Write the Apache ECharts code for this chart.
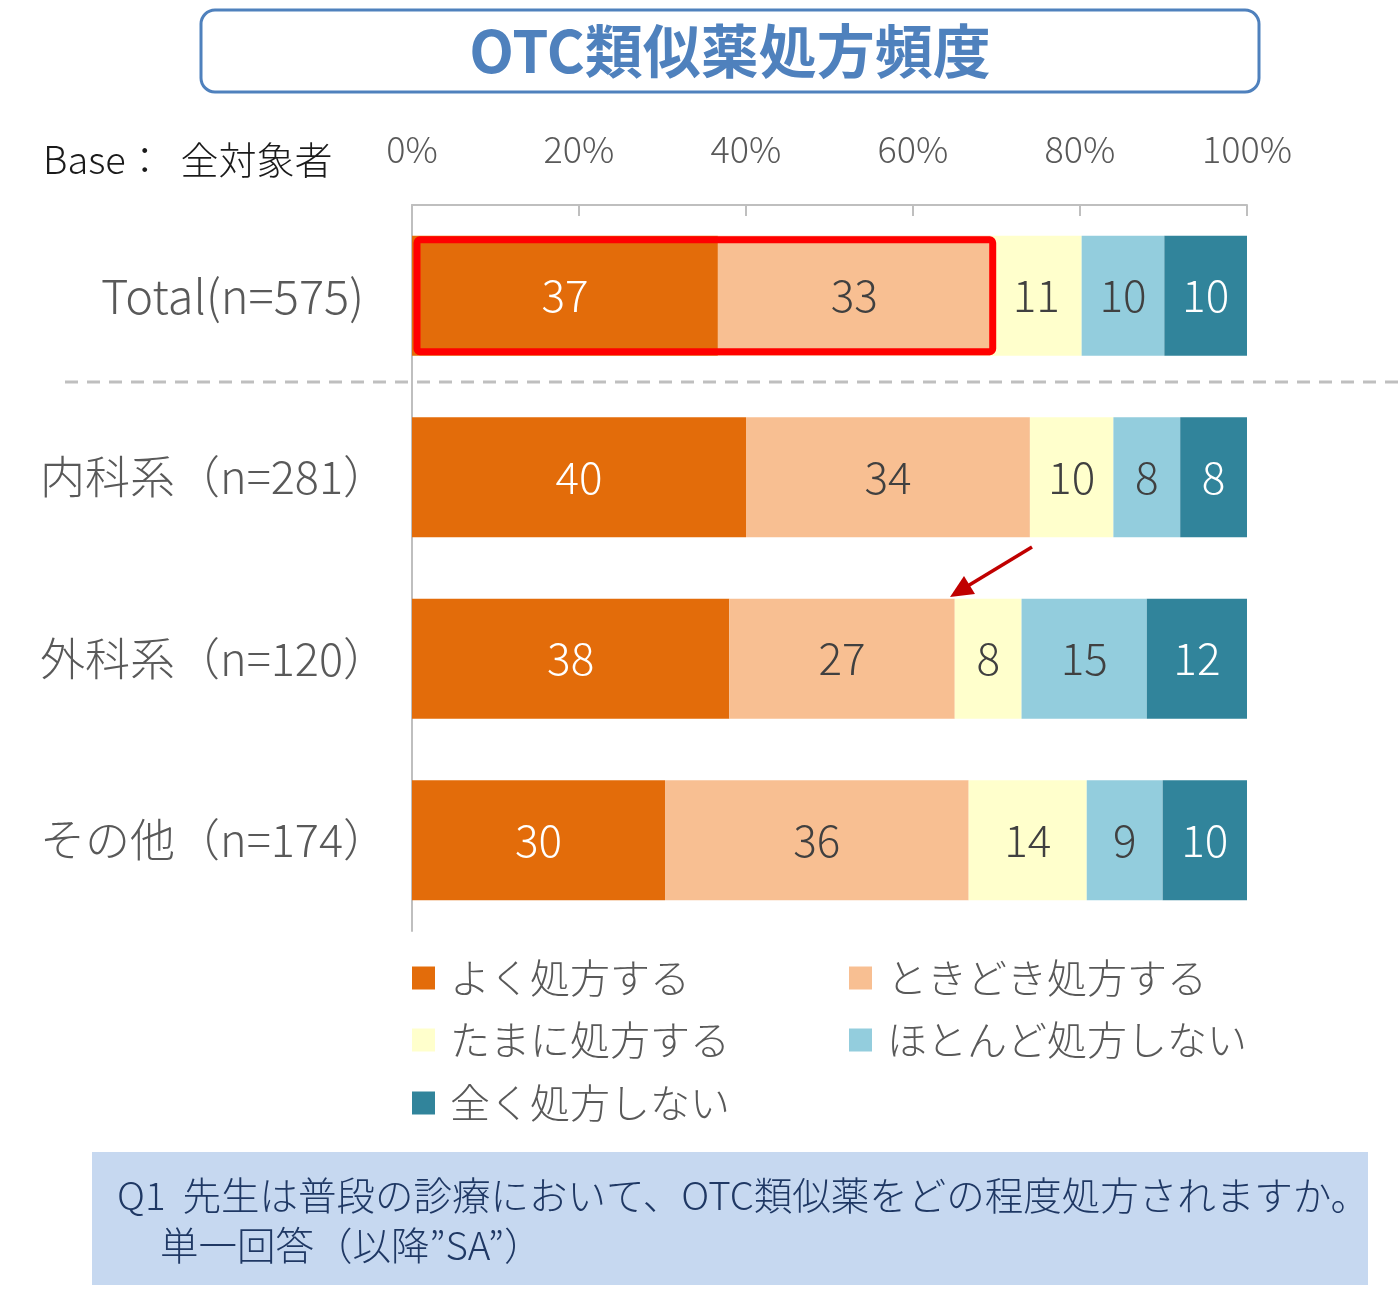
<!DOCTYPE html>
<html style="height: 100%">
  <head>
    <meta charset="utf-8" />
  </head>
  <body style="height: 100%; margin: 0; background: #ffffff">
    <div id="container" style="width: 1400px; height: 1292px"></div>

    <script src="https://cdn.jsdelivr.net/npm/echarts@6/dist/echarts.min.js"></script>
    <script type="text/javascript">
      var categories = ["Total(n=575)", "内科系（n=281）", "外科系（n=120）", "その他（n=174）"];
      var seriesNames = ["よく処方する", "ときどき処方する", "たまに処方する", "ほとんど処方しない", "全く処方しない"];
      var often = [37, 40, 38, 30];
      var sometimes = [33, 34, 27, 36];
      var rarely = [11, 10, 8, 14];
      var hardly = [10, 8, 15, 9];
      var never = [10, 8, 12, 10];
      var xTicks = [0, 20, 40, 60, 80, 100];

      var colors = ["#E36C0A", "#F8BF92", "#FFFFCC", "#93CDDD", "#31849B"];
      var labelColors = ["#ffffff", "#404040", "#404040", "#404040", "#ffffff"];
      var font = "'Noto Sans CJK JP', 'Noto Sans', sans-serif";

      var raw = [often, sometimes, rarely, hardly, never];
      // 100% stacked: each row is scaled by its own sum
      var rowSums = categories.map(function (c, i) {
        return raw.reduce(function (s, arr) { return s + arr[i]; }, 0);
      });

      var dom = document.getElementById("container");
      var myChart = echarts.init(dom);

      var series = raw.map(function (arr, k) {
        return {
          name: seriesNames[k],
          type: "bar",
          stack: "total",
          barWidth: 120,
          itemStyle: { color: colors[k] },
          label: {
            show: true,
            position: "inside",
            color: labelColors[k],
            fontSize: 44,
            fontFamily: font,
            fontWeight: 300,
            formatter: function (p) { return arr[p.dataIndex]; }
          },
          emphasis: { disabled: true },
          data: arr.map(function (v, i) { return (v / rowSums[i]) * 100; })
        };
      });

      var legendPos = [[412, 958], [849, 958], [412, 1020], [849, 1020], [412, 1083]];
      var legends = seriesNames.map(function (n, k) {
        return {
          data: [n],
          left: legendPos[k][0],
          top: legendPos[k][1],
          padding: 0,
          icon: "rect",
          itemWidth: 23,
          itemHeight: 23,
          selectedMode: false,
          textStyle: { fontSize: 40, color: "#595959", fontFamily: font, fontWeight: 300, padding: [0, 0, 0, 10] }
        };
      });

      var option = {
        backgroundColor: "#ffffff",
        animation: false,
        grid: { left: 412, right: 153, top: 205, bottom: 361 },
        legend: legends,
        xAxis: {
          type: "value",
          position: "top",
          min: 0,
          max: 100,
          interval: 20,
          axisLine: { show: true, lineStyle: { color: "#BFBFBF", width: 2 } },
          axisTick: { show: true, inside: true, length: 11, lineStyle: { color: "#BFBFBF", width: 2 } },
          splitLine: { show: false },
          axisLabel: {
            margin: 38,
            fontSize: 36,
            color: "#595959",
            fontFamily: font,
            fontWeight: 300,
            formatter: function (v) { return xTicks.indexOf(v) >= 0 ? v + "%" : ""; }
          }
        },
        yAxis: {
          type: "category",
          inverse: true,
          data: categories.map(function (c, i) {
            return i === 0 ? { value: c, textStyle: { fontSize: 47, padding: [0, 24, 0, 0] } } : c;
          }),
          axisLine: { show: true, lineStyle: { color: "#BFBFBF", width: 2 } },
          axisTick: { show: false },
          axisLabel: { margin: 24, fontSize: 45, color: "#595959", fontFamily: font, fontWeight: 300 }
        },
        series: series,
        graphic: [
          {
            type: "rect",
            shape: { x: 201, y: 10, width: 1058, height: 82, r: 14 },
            style: { fill: "#ffffff", stroke: "#4F81BD", lineWidth: 3 }
          },
          {
            type: "text",
            style: {
              text: "OTC類似薬処方頻度", x: 730, y: 51,
              textAlign: "center", textVerticalAlign: "middle",
              fontSize: 58, fontWeight: "bold", fill: "#4F81BD", fontFamily: font
            }
          },
          {
            type: "text",
            style: {
              text: "Base：  全対象者", x: 43, y: 160, textVerticalAlign: "middle",
              fontSize: 38, fill: "#1a1a1a", fontFamily: font, fontWeight: 300
            }
          },
          {
            type: "line",
            shape: { x1: 65, y1: 382, x2: 1400, y2: 382 },
            style: { stroke: "#BFBFBF", lineWidth: 3, lineDash: [13, 9] }
          },
          {
            type: "polyline",
            shape: { points: [[1032, 547], [966, 587]] },
            style: { stroke: "#C00000", lineWidth: 3.5 }
          },
          {
            type: "polygon",
            shape: { points: [[950, 597], [975, 594], [964, 576]] },
            style: { fill: "#C00000" }
          },
          {
            type: "rect",
            shape: { x: 92, y: 1152, width: 1276, height: 133 },
            style: { fill: "#C6D8F0" }
          },
          {
            type: "text",
            style: {
              text: "Q1  先生は普段の診療において、OTC類似薬をどの程度処方されますか。",
              x: 117, y: 1195, textVerticalAlign: "middle",
              fontSize: 38.5, fill: "#1F3864", fontFamily: font, fontWeight: 300
            }
          },
          {
            type: "text",
            style: {
              text: "単一回答（以降”SA”）",
              x: 160, y: 1245, textVerticalAlign: "middle",
              fontSize: 38.5, fill: "#1F3864", fontFamily: font, fontWeight: 300
            }
          }
        ]
      };

      myChart.setOption(option);

      // red highlight box around the first two segments of the Total row
      var x0 = myChart.convertToPixel({ xAxisIndex: 0 }, 0);
      var x1 = myChart.convertToPixel({ xAxisIndex: 0 }, ((often[0] + sometimes[0]) / rowSums[0]) * 100);
      var yc = myChart.convertToPixel({ yAxisIndex: 0 }, categories[0]);
      var g = option.graphic.slice();
      g.push({
        type: "rect",
        z: 100,
        shape: { x: x0 + 5, y: yc - 56, width: x1 - x0 - 3, height: 112, r: 3 },
        style: { fill: "none", stroke: "#FF0000", lineWidth: 7 }
      });
      myChart.setOption({ graphic: g });
    </script>
  </body>
</html>
